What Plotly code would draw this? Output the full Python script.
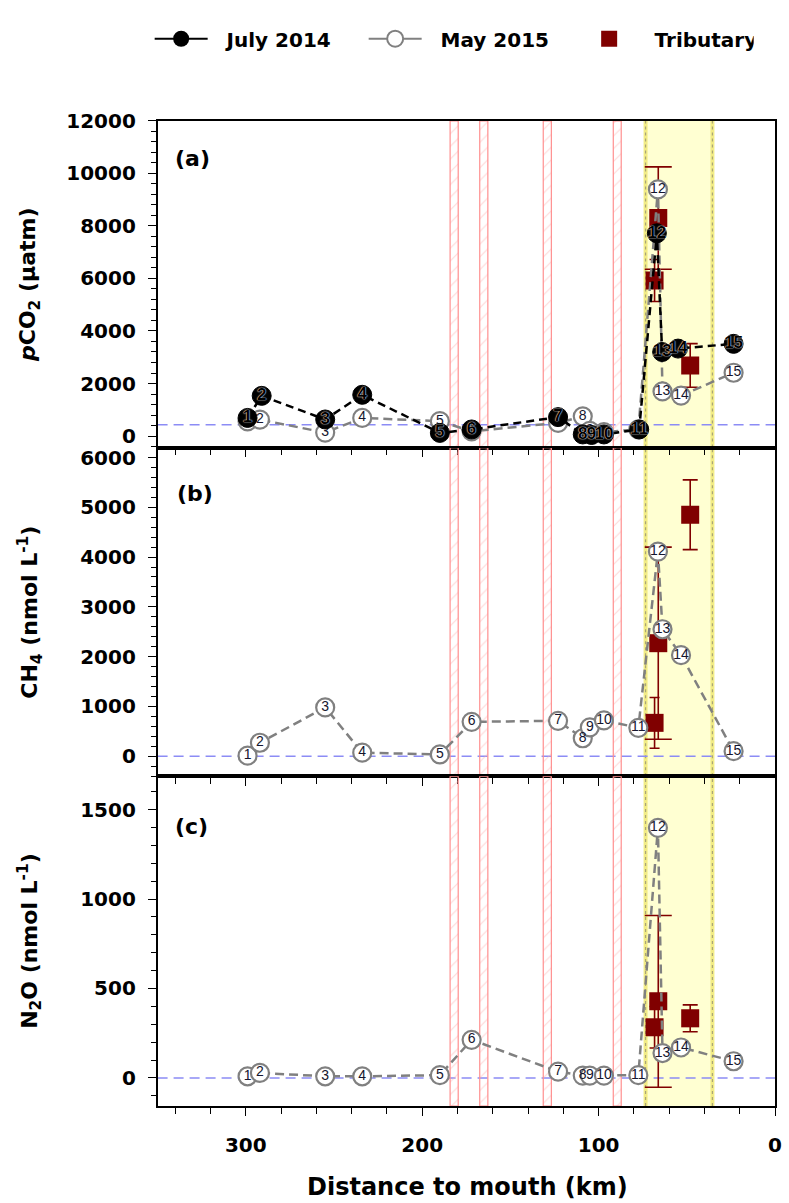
import plotly.graph_objects as go

# ---------------- data ----------------
station_labels = [str(i) for i in range(1, 16)]

km_2014 = [299, 291, 255, 234, 190, 172, 123, 109, 104, 97, 77, 67, 64, 55, 23.5]
pco2_2014 = [690, 1530, 630, 1570, 120, 250, 720, 60, 40, 60, 250, 7720, 3200, 3330, 3510]

km_2015 = [299, 292, 255, 234, 190, 172, 123, 109, 105, 97, 77.5, 66.4, 63.8, 53.3, 23.5]
pco2_2015 = [560, 625, 130, 690, 565, 180, 500, 750, 200, 150, 250, 9390, 1700, 1540, 2410]
ch4_2015 = [10, 270, 980, 70, 35, 690, 710, 360, 580, 720, 570, 4110, 2550, 2030, 100]
n2o_2015 = [9, 28, 9, 9, 15, 213, 35, 13, 13, 13, 15, 1398, 139, 170, 93]

trib_km = [68.3, 66.2, 48.1]
trib_pco2 = [5920, 8300, 2690]
trib_pco2_sd = [800, 1950, 830]
trib_ch4 = [670, 2270, 4850]
trib_ch4_sd = [510, 1930, 700]
trib_n2o = [283, 428, 333]
trib_n2o_sd = [116, 480, 75]

dam_zones_km = [(179.6, 184.2), (162.8, 167.4), (126.8, 131.4), (87.2, 91.7)]
estuary_km = (35.5, 73.4)
atm_equilibrium = [430, 0, 0]

x_tick_vals = [300, 200, 100, 0]

# ---------------- layout constants ----------------
W, H = 789, 1203
PX_L, PX_R = 159, 782
panels_px = [(110, 440), (440, 772), (772, 1105)]
y_ranges = [(-441, 12000), (-404, 6199), (-157, 1686)]
y_dticks = [2000, 1000, 500]
y_minor = [400, 200, 100]
X_RANGE = [350, 0]

FONT = "DejaVu Sans"
RED = "#800000"
GRAY = "#808080"

fig = go.Figure()


def ax_name(i, kind):
    return kind if i == 0 else f"{kind}{i + 1}"


series_2015 = [pco2_2015, ch4_2015, n2o_2015]
trib_vals = [trib_pco2, trib_ch4, trib_n2o]
trib_sds = [trib_pco2_sd, trib_ch4_sd, trib_n2o_sd]
trib_cap = [5, 13.5, 7.5]

for i in range(3):
    xa, ya = ax_name(i, "x"), ax_name(i, "y")
    y0, y1 = y_ranges[i]
    # hatched dam zones
    fig.add_trace(go.Bar(
        x=[(a + b) / 2 for a, b in dam_zones_km],
        y=[y1 - y0] * len(dam_zones_km),
        base=y0,
        width=[b - a for a, b in dam_zones_km],
        marker=dict(color="rgba(0,0,0,0)",
                    line=dict(color="#ff8f8f", width=1.2),
                    pattern=dict(shape="/", fgcolor="#ffb0b0", bgcolor="rgba(0,0,0,0)",
                                 size=9, solidity=0.12)),
        xaxis=xa, yaxis=ya, showlegend=False, hoverinfo="skip"))
    # tributaries
    for k in range(len(trib_km)):
        fig.add_trace(go.Scatter(
            x=[trib_km[k]], y=[trib_vals[i][k]], mode="markers",
            marker=dict(symbol="square", size=18, color=RED),
            error_y=dict(type="data", array=[trib_sds[i][k]], color=RED,
                         thickness=1.6, width=trib_cap[k]),
            xaxis=xa, yaxis=ya, showlegend=False, hoverinfo="skip"))
    # May 2015
    fig.add_trace(go.Scatter(
        x=km_2015, y=series_2015[i], mode="lines+markers+text",
        text=station_labels, textposition="middle center",
        textfont=dict(family="Liberation Sans", size=14, color="#15152e"),
        line=dict(color=GRAY, width=2.5, dash="9px,5px"),
        marker=dict(symbol="circle", size=18, color="white", line=dict(color=GRAY, width=2.2)),
        xaxis=xa, yaxis=ya, showlegend=False, hoverinfo="skip"))
    if i == 0:
        fig.add_trace(go.Scatter(
            x=km_2014, y=pco2_2014, mode="lines+markers+text",
            text=station_labels, textposition="middle center",
            textfont=dict(family="Liberation Sans", size=17, color="black", weight="bold",
                          shadow="0 0 1.5px #ffffff, 0 0 1px #ffffff"),
            line=dict(color="black", width=2.5, dash="8px,5px"),
            marker=dict(symbol="circle", size=19, color="black", line=dict(color="black", width=1)),
            xaxis=xa, yaxis=ya, showlegend=False, hoverinfo="skip"))

# legend-only entries
fig.add_trace(go.Scatter(x=[None], y=[None], mode="lines+markers", name="\u00a0\u00a0July 2014",
                         line=dict(color="black", width=2),
                         marker=dict(symbol="circle", size=16, color="black")))
fig.add_trace(go.Scatter(x=[None], y=[None], mode="lines+markers", name="\u00a0\u00a0May 2015",
                         line=dict(color=GRAY, width=2),
                         marker=dict(symbol="circle", size=16, color="white", line=dict(color=GRAY, width=2))))
fig.add_trace(go.Scatter(x=[None], y=[None], mode="markers", name="\u00a0\u00a0Tributary",
                         legendwidth=108,
                         marker=dict(symbol="square", size=16, color=RED)))

shapes = []
annotations = []
for i in range(3):
    top, bot = panels_px[i]
    xa, ya = ax_name(i, "x"), ax_name(i, "y")
    # estuary (yellow) band
    shapes.append(dict(type="rect", xref=xa, yref=f"{ya} domain", x0=estuary_km[0], x1=estuary_km[1],
                       y0=0, y1=1, fillcolor="#ffffd2", line=dict(width=0), layer="below"))
    for xb in estuary_km:
        shapes.append(dict(type="line", xref=xa, yref=f"{ya} domain", x0=xb, x1=xb, y0=0, y1=1,
                           line=dict(color="#f2ec86", width=4), layer="below"))
        shapes.append(dict(type="line", xref=xa, yref=f"{ya} domain", x0=xb, x1=xb, y0=0, y1=1,
                           line=dict(color="#aaa678", width=1.2, dash="3px,3px"), layer="below"))
    # atmospheric equilibrium line
    shapes.append(dict(type="line", xref=f"{xa} domain", yref=ya, x0=0, x1=1,
                       y0=atm_equilibrium[i], y1=atm_equilibrium[i],
                       line=dict(color="#8c8cf5", width=1.5, dash="10px,6px"), layer="below"))

    dom_y = [1 - bot / H, 1 - top / H]
    fig.update_layout(**{
        ("xaxis" if i == 0 else f"xaxis{i + 1}"): dict(
            domain=[PX_L / W, PX_R / W], range=X_RANGE, anchor=ya,
            showline=True, linecolor="black", linewidth=1.5, mirror=True,
            showgrid=False, zeroline=False,
            ticks="outside", ticklen=8, tickwidth=1.3, tickcolor="black",
            tickmode="array", tickvals=x_tick_vals,
            showticklabels=(i == 2),
            tickfont=dict(family=FONT, size=20, color="black", weight="bold"),
            ticklabelstandoff=12,
            minor=dict(dtick=20, tick0=0, ticks="outside", ticklen=6, tickwidth=1.3,
                       tickcolor="black", showgrid=False)),
        ("yaxis" if i == 0 else f"yaxis{i + 1}"): dict(
            domain=dom_y, range=list(y_ranges[i]), anchor=xa,
            showline=True, linecolor="black", linewidth=1.5, mirror=True,
            showgrid=False, zeroline=False,
            ticks="outside", ticklen=8, tickwidth=1.3, tickcolor="black",
            dtick=y_dticks[i], tick0=0, tickformat="d",
            tickfont=dict(family=FONT, size=20, color="black", weight="bold"),
            ticklabelstandoff=8,
            minor=dict(dtick=y_minor[i], tick0=0, ticks="outside", ticklen=5, tickwidth=1.3,
                       tickcolor="black", showgrid=False)),
    })

panel_letters = ["(a)", "(b)", "(c)"]
letter_px = [(175, 148), (177, 486), (175, 823)]
for txt, (px, py) in zip(panel_letters, letter_px):
    annotations.append(dict(text=txt, xref="paper", yref="paper", x=px / W, y=1 - py / H,
                            xanchor="left", yanchor="middle", showarrow=False,
                            font=dict(family=FONT, size=22, color="black", weight="bold")))

y_titles = ["<i>p</i>CO<sub>2</sub> (\u00b5atm)",
            "CH<sub>4</sub> (nmol L<sup>-1</sup>)",
            "N<sub>2</sub>O (nmol L<sup>-1</sup>)"]
for txt, (top, bot) in zip(y_titles, panels_px):
    annotations.append(dict(text=txt, xref="paper", yref="paper", x=30 / W, y=1 - (top + bot) / 2 / H,
                            xanchor="center", yanchor="middle", textangle=-90, showarrow=False,
                            font=dict(family=FONT, size=22, color="black", weight="bold")))

annotations.append(dict(text="Distance to mouth (km)", xref="paper", yref="paper",
                        x=472 / W, y=1 - 1187 / H, xanchor="center", yanchor="middle",
                        showarrow=False, font=dict(family=FONT, size=24, color="black", weight="bold")))

fig.update_layout(
    width=W, height=H, autosize=False,
    margin=dict(l=0, r=0, t=0, b=0, pad=0),
    paper_bgcolor="white", plot_bgcolor="white",
    font=dict(family=FONT, color="black"),
    shapes=shapes, annotations=annotations,
    barmode="overlay",
    showlegend=True,
    legend=dict(orientation="h", x=151 / W, xanchor="left", y=1 - 27 / H, yanchor="middle",
                itemwidth=53, entrywidth=146, traceorder="normal",
                font=dict(family=FONT, size=20, color="black", weight="bold"),
                bgcolor="rgba(0,0,0,0)"),
)

fig.write_html(
    "out.html",
    config={"displayModeBar": False, "responsive": False},
    post_script=("document.body.style.margin='0px';document.body.style.padding='0px';"
                 "document.documentElement.style.overflow='hidden';"
                 "document.body.style.overflow='hidden';"),
)
